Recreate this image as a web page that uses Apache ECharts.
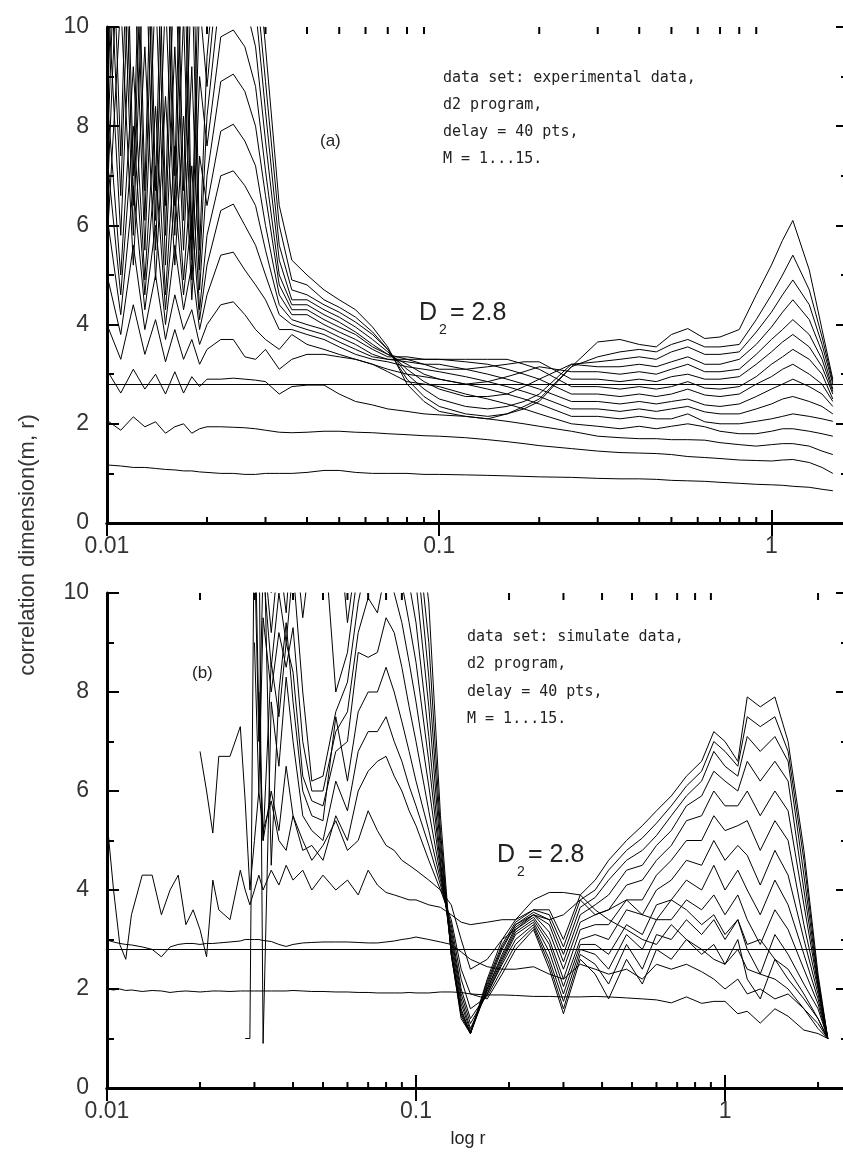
<!DOCTYPE html>
<html>
<head>
<meta charset="utf-8">
<script src="https://cdn.jsdelivr.net/npm/echarts@6/dist/echarts.min.js"></script>
<style>
  html, body { margin: 0; padding: 0; background: #fff; overflow: hidden; }
  #chart { width: 860px; height: 1153px; }
</style>
</head>
<body>
<div id="chart"></div>
<script>
// ---- data ----
var d2Value = 2.8;
var xMaxA = 1.7, xMaxB = 2.5;
var minorTicks = [0.02,0.03,0.04,0.05,0.06,0.07,0.08,0.09,0.2,0.3,0.4,0.5,0.6,0.7,0.8,0.9,2];

// panel (a): experimental data
var xA = [0.010,0.011,0.012,0.013,0.014,0.015,0.016,0.017,0.018,0.019,0.020,
  0.022,0.024,0.026,0.028,0.030,0.033,
  0.036,0.040,0.045,0.050,0.056,0.063,0.070,0.080,0.090,0.10,
  0.12,0.14,0.16,0.18,0.20,
  0.25,0.30,0.35,0.40,0.45,0.50,0.56,0.63,0.70,0.80,0.90,
  1.00,1.08,1.16,1.30,1.42,1.53];
var a1 = [1.17,1.15,1.12,1.12,1.10,1.08,1.07,1.05,1.05,1.03,1.02, 1.00,1.00,0.98,0.98,1.00,1.00,
  1.00,1.02,1.06,1.06,1.02,1.00,1.00,1.00,0.98,0.98, 0.97,0.96,0.95,0.94,0.93,
  0.92,0.90,0.89,0.89,0.88,0.86,0.85,0.84,0.82,0.80,0.78, 0.77,0.76,0.74,0.72,0.68,0.65];
var a2 = [2.07,1.87,2.14,1.94,2.04,1.81,1.94,2.00,1.81,1.90,1.94, 1.94,1.93,1.92,1.90,1.87,1.83,
  1.82,1.83,1.85,1.85,1.83,1.82,1.80,1.78,1.76,1.75, 1.72,1.68,1.64,1.60,1.56,
  1.50,1.45,1.42,1.41,1.40,1.38,1.34,1.32,1.30,1.27,1.26, 1.25,1.27,1.28,1.22,1.12,1.00];
var a3 = [3.08,2.62,3.10,2.70,3.00,2.60,3.05,2.62,2.95,2.75,2.90, 2.90,2.92,2.90,2.88,2.85,2.60,
  2.75,2.78,2.78,2.60,2.45,2.38,2.30,2.25,2.20,2.18, 2.15,2.10,2.05,2.00,1.95,
  1.85,1.75,1.72,1.70,1.70,1.68,1.68,1.67,1.62,1.58,1.55, 1.58,1.60,1.60,1.55,1.45,1.38];
var a4 = [4.00,3.30,4.40,3.40,4.10,3.25,3.90,3.30,3.70,3.20,3.50, 3.70,3.70,3.35,3.30,3.50,3.10,
  3.30,3.40,3.40,3.35,3.30,3.20,3.05,2.85,2.80,2.75, 2.60,2.50,2.40,2.30,2.20,
  2.00,1.95,1.90,1.95,1.90,1.95,2.00,1.94,1.85,1.80,1.80, 1.85,1.90,1.90,1.85,1.80,1.75];
var a5 = [5.0,3.8,5.6,3.9,5.0,3.7,4.6,3.9,4.3,3.6,4.0, 4.40,4.46,4.20,3.90,3.70,3.50,
  3.80,3.60,3.50,3.40,3.30,3.20,3.10,3.00,2.95,2.90, 2.80,2.70,2.60,2.50,2.40,
  2.15,2.15,2.10,2.15,2.10,2.10,2.20,2.04,2.00,2.00,2.05, 2.10,2.15,2.20,2.15,2.10,2.05];
var a6 = [6.2,4.2,6.8,4.3,6.0,4.0,5.6,4.3,5.2,3.9,4.6, 5.40,5.46,5.10,4.80,4.50,3.90,
  3.90,3.80,3.70,3.55,3.40,3.30,3.25,3.15,3.10,3.05, 2.95,2.85,2.75,2.65,2.55,
  2.30,2.30,2.25,2.30,2.25,2.30,2.35,2.24,2.20,2.20,2.30, 2.40,2.50,2.55,2.45,2.35,2.20];
var a7 = [7.4,4.6,8.0,4.6,7.2,4.3,6.6,4.6,6.2,4.1,5.2, 6.30,6.43,6.00,5.60,5.00,4.20,
  4.00,3.90,3.80,3.65,3.50,3.35,3.30,3.25,3.20,3.20, 3.10,3.00,2.90,2.80,2.70,
  2.45,2.45,2.40,2.45,2.40,2.45,2.50,2.38,2.35,2.40,2.55, 2.70,2.80,2.90,2.75,2.60,2.35];
var a8 = [8.6,5.0,9.2,4.9,8.4,4.6,7.6,4.9,7.2,4.3,5.8, 7.00,7.10,6.80,6.40,5.50,4.40,
  4.10,4.00,3.90,3.75,3.60,3.40,3.30,3.30,3.30,3.30, 3.25,3.20,3.10,3.00,2.90,
  2.60,2.60,2.55,2.60,2.55,2.60,2.70,2.58,2.55,2.60,2.80, 2.95,3.10,3.20,3.00,2.80,2.45];
var a9 = [5.6,10.5,5.2,9.6,4.9,8.6,5.2,8.2,4.5,7.4,6.4, 7.90,8.04,7.70,7.20,6.00,4.60,
  4.20,4.20,4.00,3.85,3.70,3.50,3.35,3.35,3.30,3.30, 3.30,3.30,3.30,3.20,3.10,
  2.75,2.75,2.70,2.75,2.70,2.75,2.85,2.72,2.70,2.75,2.95, 3.20,3.35,3.50,3.30,3.00,2.50];
var a10 = [11,5.8,11.8,5.5,10.8,5.2,9.6,5.5,9.2,4.7,7.0, 8.90,9.05,8.70,8.00,6.60,4.80,
  4.30,4.30,4.10,3.95,3.80,3.55,3.40,3.30,3.20,3.10, 3.10,3.15,3.20,3.25,3.25,
  2.90,2.90,2.85,2.90,2.85,2.95,3.00,2.90,2.90,2.95,3.20, 3.45,3.65,3.80,3.55,3.15,2.60];
var a11 = [6.4,13,5.8,12,5.5,10.6,5.8,10.2,4.9,9.0,7.6, 9.80,9.94,9.60,8.80,7.10,5.00,
  4.40,4.40,4.20,4.05,3.85,3.60,3.40,3.20,3.00,2.90, 2.80,2.85,2.95,3.05,3.15,
  3.05,3.05,3.00,3.05,3.00,3.10,3.20,3.05,3.05,3.10,3.40, 3.70,3.90,4.10,3.80,3.30,2.65];
var a12 = [13,6.6,14,6.1,13,5.8,11.6,6.1,11.2,5.1,8.2, 10.8,10.9,10.5,9.6,7.7,5.3,
  4.50,4.50,4.30,4.15,3.95,3.70,3.45,3.10,2.85,2.70, 2.55,2.55,2.60,2.75,2.90,
  3.20,3.15,3.15,3.20,3.15,3.25,3.35,3.20,3.20,3.30,3.60, 3.95,4.25,4.50,4.10,3.45,2.70];
var a13 = [7.2,15,6.4,14,6.1,12.6,6.4,12.2,5.3,10.5,8.8, 11.7,11.8,11.4,10.4,8.3,5.6,
  4.70,4.60,4.40,4.25,4.05,3.80,3.50,3.00,2.70,2.50, 2.35,2.30,2.35,2.45,2.60,
  3.20,3.25,3.30,3.35,3.30,3.45,3.55,3.40,3.40,3.45,3.85, 4.25,4.60,4.90,4.40,3.60,2.80];
var a14 = [15,7.4,16,6.7,15,6.4,13.6,6.7,13.2,5.5,9.4, 12.5,12.7,12.3,11.0,8.9,6.0,
  4.90,4.80,4.50,4.35,4.15,3.85,3.50,2.90,2.55,2.35, 2.20,2.15,2.20,2.30,2.45,
  3.15,3.35,3.45,3.50,3.45,3.60,3.70,3.55,3.55,3.60,4.10, 4.60,5.00,5.40,4.70,3.75,2.85];
var a15 = [8.0,17,7.0,16,6.7,14.6,7.0,14.2,5.7,12,10, 13.5,13.6,13.2,11.8,9.6,6.4,
  5.30,5.00,4.70,4.50,4.30,3.95,3.55,2.80,2.45,2.25, 2.15,2.10,2.20,2.35,2.50,
  3.15,3.65,3.70,3.60,3.55,3.80,3.92,3.72,3.75,3.90,4.60, 5.20,5.70,6.10,5.10,3.90,2.90];

// panel (b): simulated data (null = no value computed)
var xB = [0.0100,0.0105,0.011,0.0115,0.012,0.013,0.014,0.015,0.016,0.017,
  0.018,0.019,0.020,0.021,0.022,0.023,0.025,0.027,0.028,0.029,
  0.030,0.031,0.032,0.034,0.036,0.038,0.040,0.043,0.046,0.050,
  0.055,0.060,0.065,0.070,0.075,0.080,0.085,0.090,0.095,0.100,
  0.110,0.120,0.130,0.140,0.150,0.170,0.190,0.210,0.240,0.270,
  0.300,0.340,0.380,0.420,0.480,0.540,0.600,0.670,0.750,0.840,
  0.920,1.000,1.100,1.180,1.300,1.450,1.600,1.800,2.000,2.150];
var N = null;
var b1 = [2.00,1.98,2.00,1.97,1.98,1.95,1.97,1.96,1.93,1.95,
  1.96,1.95,1.94,1.95,1.96,1.96,1.95,1.96,1.96,1.96,
  1.96,1.96,1.96,1.96,1.96,1.96,1.97,1.96,1.95,1.95,
  1.94,1.94,1.93,1.93,1.92,1.92,1.92,1.92,1.93,1.92,
  1.92,1.94,1.94,1.93,1.90,1.88,1.88,1.87,1.85,1.85,
  1.84,1.84,1.85,1.84,1.82,1.80,1.78,1.72,1.84,1.71,
  1.75,1.75,1.50,1.55,1.31,1.60,1.45,1.17,1.10,1.00];
var b2 = [2.99,2.95,2.92,2.90,2.89,2.85,2.80,2.65,2.85,2.90,
  2.92,2.92,2.90,2.92,2.92,2.93,2.95,2.97,3.00,3.00,
  3.00,3.00,2.98,2.96,2.90,2.86,2.90,2.93,2.94,2.95,
  2.95,2.95,2.94,2.93,2.93,2.95,2.97,3.00,3.02,3.05,
  3.00,2.95,2.90,2.75,2.60,2.45,2.40,2.40,2.45,2.30,
  2.20,2.50,2.40,2.30,2.40,2.20,2.50,2.40,2.50,2.35,
  2.20,2.00,2.20,1.90,2.00,1.80,1.90,1.60,1.30,1.00];
var b3 = [5.40,4.00,2.90,2.60,3.50,4.30,4.30,3.50,4.00,4.30,
  3.30,3.60,3.20,2.65,4.20,3.60,3.40,4.40,4.00,3.70,
  4.00,4.30,4.00,4.40,4.10,4.50,4.20,4.40,4.00,4.30,
  4.00,4.20,3.90,4.40,4.10,3.95,3.90,3.85,3.80,3.80,
  3.70,3.65,3.50,3.35,3.30,3.35,3.40,3.40,3.80,3.95,
  3.95,3.90,3.60,3.40,3.20,3.00,2.90,3.30,3.00,2.80,
  2.60,2.50,2.80,2.40,2.30,2.20,2.00,1.60,1.20,1.00];
var b4 = [N,N,N,N,N,N,N,N,N,N,
  N,N,6.80,6.00,5.15,6.70,6.70,7.30,5.80,4.00,
  5.00,6.00,5.20,5.80,5.00,4.80,5.50,5.00,4.60,4.90,
  5.40,4.80,5.00,5.60,5.20,4.90,4.80,4.60,4.50,4.40,
  4.20,4.00,3.70,3.00,2.40,2.60,3.00,3.20,3.50,3.40,
  3.50,3.80,3.50,3.60,3.80,3.50,3.40,3.80,3.60,3.30,
  3.50,3.10,3.40,2.90,3.00,2.60,2.40,1.90,1.40,1.00];
var b5 = [N,N,N,N,N,N,N,N,N,N,
  N,N,N,N,N,N,N,N,1.00,1.00,
  12.0,7.50,5.00,6.00,5.20,6.50,5.50,4.80,4.90,4.60,
  5.50,5.00,6.00,6.40,6.60,6.70,6.30,6.00,5.60,5.30,
  4.60,4.00,3.40,2.40,1.90,1.80,2.30,2.80,3.20,2.40,
  1.50,2.60,2.30,1.80,2.60,2.10,2.80,2.60,3.00,2.70,
  2.90,2.50,3.00,2.20,1.80,2.60,2.20,1.80,1.40,1.00];
var b6 = [N,N,N,N,N,N,N,N,N,N,
  N,N,N,N,N,N,N,N,N,N,
  N,12.0,0.90,7.80,6.50,8.30,7.00,5.50,5.20,5.00,
  6.20,5.60,6.80,7.20,7.20,7.50,7.00,6.60,6.10,5.70,
  4.90,4.10,3.30,2.20,1.60,1.85,2.40,2.90,3.25,2.50,
  1.60,2.70,2.50,2.10,2.90,2.40,3.10,3.00,3.40,3.10,
  3.40,3.00,3.40,2.80,2.30,3.10,2.70,2.10,1.60,1.00];
var b7 = [N,N,N,N,N,N,N,N,N,N,
  N,N,N,N,N,N,N,N,N,N,
  N,N,12.0,4.50,8.00,9.40,7.80,6.00,5.50,5.40,
  7.50,6.20,7.60,8.00,8.00,8.50,8.00,7.40,6.80,6.20,
  5.20,4.20,3.20,2.00,1.40,1.90,2.50,3.00,3.30,2.60,
  1.75,2.80,2.70,2.40,3.10,2.80,3.40,3.40,3.80,3.60,
  3.90,3.50,3.90,3.40,2.90,3.60,3.20,2.40,1.70,1.00];
var b8 = [N,N,N,N,N,N,N,N,N,N,
  N,N,N,N,N,N,N,N,N,N,
  N,8.00,5.00,8.60,7.50,9.00,8.40,6.30,5.80,5.70,
  6.80,7.00,8.80,8.70,8.80,9.50,9.20,8.50,7.70,7.00,
  5.60,4.30,3.10,1.90,1.30,1.90,2.55,3.10,3.35,2.75,
  1.90,2.90,2.90,2.70,3.30,3.10,3.70,3.80,4.20,4.00,
  4.50,4.00,4.40,4.00,3.50,4.20,3.70,2.70,1.80,1.00];
var b9 = [N,N,N,N,N,N,N,N,N,N,
  N,N,N,N,N,N,N,N,N,N,
  9.00,6.00,9.50,8.00,9.20,8.50,9.30,7.00,6.00,6.00,
  7.20,7.60,9.20,9.90,9.60,10.5,10.0,9.40,8.60,7.80,
  6.10,4.40,3.00,1.80,1.20,1.95,2.60,3.15,3.40,2.90,
  2.05,3.00,3.10,3.00,3.60,3.50,4.00,4.20,4.60,4.50,
  5.00,4.60,4.90,4.70,4.10,4.80,4.30,3.00,1.90,1.00];
var b10 = [N,N,N,N,N,N,N,N,N,N,
  N,N,N,N,N,N,N,N,N,N,
  11.0,7.00,10.5,8.50,10.0,9.00,10.5,8.00,6.20,6.30,
  7.60,8.20,9.80,10.8,10.5,11.0,11.0,10.2,9.40,8.60,
  6.60,4.50,2.90,1.70,1.15,2.00,2.65,3.20,3.45,3.00,
  2.20,3.20,3.30,3.30,3.80,3.80,4.30,4.60,5.00,5.00,
  5.50,5.20,5.30,5.40,4.80,5.40,5.00,3.30,2.00,1.00];
var b11 = [N,N,N,N,N,N,N,N,N,N,
  N,N,N,N,N,N,N,N,N,N,
  N,12.0,11.0,9.20,10.8,9.60,11.5,9.50,11.0,11.5,
  8.00,8.80,10.5,11.5,11.5,11.5,11.5,11.0,10.2,9.40,
  7.10,4.60,2.80,1.60,1.10,2.00,2.70,3.25,3.50,3.15,
  2.40,3.35,3.50,3.60,4.10,4.20,4.60,4.90,5.40,5.50,
  6.00,5.70,5.70,6.00,5.50,6.00,5.60,3.70,2.05,1.00];
var b12 = [N,N,N,N,N,N,N,N,N,N,
  N,N,N,N,N,N,N,N,N,N,
  N,N,12.0,10.0,11.5,10.3,12.0,11.0,12.0,12.0,
  12.0,9.40,11.0,12.0,12.0,12.0,12.0,11.5,11.0,10.2,
  7.70,4.80,2.75,1.55,1.10,2.05,2.80,3.30,3.50,3.30,
  2.55,3.50,3.70,3.90,4.40,4.50,4.90,5.20,5.70,5.90,
  6.40,6.20,6.00,6.60,6.20,6.60,6.20,4.00,2.10,1.00];
var b13 = [N,N,N,N,N,N,N,N,N,N,
  N,N,N,N,N,N,N,N,N,N,
  N,N,N,11.0,12.0,11.0,12.5,12.0,12.5,12.5,
  12.5,10.2,11.5,12.0,12.0,12.0,12.0,12.0,11.5,11.0,
  8.30,5.00,2.70,1.50,1.10,2.10,2.85,3.30,3.55,3.40,
  2.70,3.65,3.85,4.20,4.60,4.80,5.10,5.50,5.90,6.20,
  6.80,6.50,6.30,7.10,6.80,7.10,6.60,4.30,2.15,1.00];
var b14 = [N,N,N,N,N,N,N,N,N,N,
  N,N,N,N,N,N,N,N,N,N,
  N,N,N,12.0,12.5,11.6,13.0,12.5,13.0,13.0,
  13.0,11.0,12.0,12.5,12.5,12.0,12.0,12.0,12.0,11.5,
  9.00,5.20,2.70,1.45,1.10,2.15,2.90,3.35,3.60,3.50,
  2.85,3.80,4.00,4.40,4.80,5.05,5.35,5.70,6.10,6.40,
  7.00,6.80,6.50,7.50,7.30,7.50,6.80,4.60,2.20,1.00];
var b15 = [N,N,N,N,N,N,N,N,N,N,
  N,N,N,N,N,N,N,N,N,N,
  N,N,N,N,13.0,12.3,13.0,13.0,13.5,13.5,
  13.5,12.0,12.5,13.0,13.0,12.0,12.0,12.0,12.0,12.0,
  9.80,5.50,2.70,1.40,1.10,2.20,3.00,3.40,3.60,3.60,
  3.00,3.90,4.20,4.60,5.00,5.30,5.60,5.90,6.30,6.60,
  7.20,7.00,6.60,7.90,7.70,7.90,7.00,4.80,2.30,1.00];

var curvesA = [a1,a2,a3,a4,a5,a6,a7,a8,a9,a10,a11,a12,a13,a14,a15];
var curvesB = [b1,b2,b3,b4,b5,b6,b7,b8,b9,b10,b11,b12,b13,b14,b15];

// ---- chart ----
var chart = echarts.init(document.getElementById('chart'));
var FONT = 'Liberation Sans, Arial, sans-serif';
var NOTE = 'DejaVu Sans Mono, monospace';
var grids = [
  { left: 107, top: 27, width: 741, height: 496 },
  { left: 107, top: 593, width: 741, height: 495 }
];

function xAxis(grid, max, pos) {
  return {
    type: 'log', logBase: 10, gridIndex: grid, position: pos, min: 0.01, max: max,
    axisLine: { lineStyle: { color: '#000', width: 3 } },
    axisTick: { inside: true, length: 13, lineStyle: { color: '#000', width: 2 } },
    axisLabel: {
      show: pos === 'bottom', showMaxLabel: false, margin: 12,
      color: '#333', fontSize: 23, fontFamily: FONT,
      formatter: function (v) { return String(+v.toFixed(2)); }
    },
    splitLine: { show: false }
  };
}
function yAxis(grid, pos) {
  return {
    type: 'value', gridIndex: grid, position: pos, min: 0, max: 10, interval: 2,
    axisLine: { show: true, lineStyle: { color: '#000', width: 3 } },
    axisTick: { show: true, inside: true, length: 12, lineStyle: { color: '#000', width: 2 } },
    minorTick: { show: true, splitNumber: 2, length: 7, lineStyle: { color: '#000', width: 2 } },
    axisLabel: { show: pos === 'left', margin: 18, color: '#333', fontSize: 23, fontFamily: FONT },
    splitLine: { show: false }
  };
}

// minor decade ticks (2..9) on bottom and top edges
function tickItem(params, api) {
  var x = api.value(0);
  var b = api.coord([x, 0]);
  var t = api.coord([x, 10]);
  return {
    type: 'group',
    children: [
      { type: 'line', shape: { x1: b[0], y1: b[1], x2: b[0], y2: b[1] - 6 }, style: { stroke: '#000', lineWidth: 2 } },
      { type: 'line', shape: { x1: t[0], y1: t[1], x2: t[0], y2: t[1] + 7 }, style: { stroke: '#000', lineWidth: 2 } }
    ]
  };
}

var series = [];
function addPanel(xs, curves, xi, yi, xMax) {
  curves.forEach(function (ys, k) {
    var pts = [];
    xs.forEach(function (x, i) { if (ys[i] !== null) pts.push([x, ys[i]]); });
    series.push({
      type: 'line', name: 'M=' + (k + 1), xAxisIndex: xi, yAxisIndex: yi, data: pts,
      showSymbol: false, symbol: 'none', clip: true, silent: true,
      lineStyle: { color: '#000', width: 1 }
    });
  });
  series.push({
    type: 'line', xAxisIndex: xi, yAxisIndex: yi, data: [], silent: true,
    markLine: {
      silent: true, symbol: 'none', label: { show: false },
      lineStyle: { color: '#000', width: 1.2, type: 'solid' },
      data: [{ yAxis: d2Value }]
    }
  });
  series.push({
    type: 'custom', xAxisIndex: xi, yAxisIndex: yi, silent: true, clip: false,
    renderItem: tickItem,
    data: minorTicks.filter(function (v) { return v < xMax; }).map(function (v) { return [v]; })
  });
}
addPanel(xA, curvesA, 0, 0, xMaxA);
addPanel(xB, curvesB, 2, 2, xMaxB);

function txt(x, y, s, size, align) {
  return { type: 'text', x: x, y: y, silent: true,
    style: { text: s, fill: '#222', font: size + 'px ' + FONT, verticalAlign: 'middle', align: align || 'left' } };
}
function note(x, y, s) {
  return { type: 'text', x: x, y: y, silent: true,
    style: { text: s, fill: '#222', font: '15px ' + NOTE, verticalAlign: 'middle' } };
}

var linesA = ['data set: experimental data,', 'd2 program,', 'delay = 40 pts,', 'M = 1...15.'];
var linesB = ['data set: simulate data,', 'd2 program,', 'delay = 40 pts,', 'M = 1...15.'];
var graphics = [];
linesA.forEach(function (s, i) { graphics.push(note(443, 78 + i * 27, s)); });
linesB.forEach(function (s, i) { graphics.push(note(467, 637 + i * 27.5, s)); });
graphics.push(txt(320, 141, '(a)', 17));
graphics.push(txt(192, 673, '(b)', 17));
graphics.push(txt(419, 313, 'D', 25));
graphics.push(txt(439, 330, '2', 14));
graphics.push(txt(450, 313, '= 2.8', 25));
graphics.push(txt(497, 855, 'D', 25));
graphics.push(txt(517, 872, '2', 14));
graphics.push(txt(528, 855, '= 2.8', 25));
graphics.push(txt(468, 1139, 'log r', 18, 'center'));
graphics.push({ type: 'text', x: 28, y: 545, rotation: Math.PI / 2, silent: true,
  style: { text: 'correlation dimension(m, r)', fill: '#333', font: '22px ' + FONT,
    align: 'center', verticalAlign: 'middle' } });

chart.setOption({
  animation: false,
  backgroundColor: '#fff',
  grid: grids,
  xAxis: [xAxis(0, xMaxA, 'bottom'), xAxis(0, xMaxA, 'top'), xAxis(1, xMaxB, 'bottom'), xAxis(1, xMaxB, 'top')],
  yAxis: [yAxis(0, 'left'), yAxis(0, 'right'), yAxis(1, 'left'), yAxis(1, 'right')],
  series: series,
  graphic: graphics
});
</script>
</body>
</html>
